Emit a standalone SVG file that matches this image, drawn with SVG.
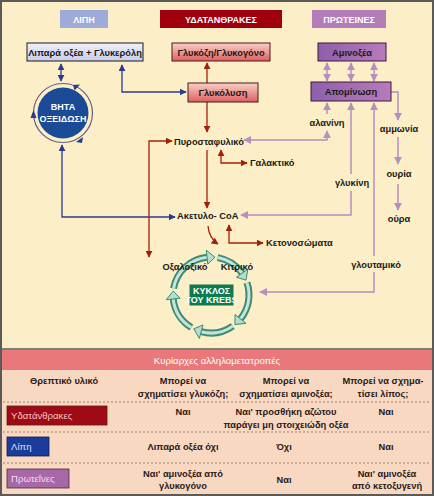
<svg xmlns="http://www.w3.org/2000/svg" width="434" height="496" viewBox="0 0 434 496">
<defs>
<style>
.t{font-family:"Liberation Sans","Noto Sans",sans-serif;font-weight:bold;font-size:9.3px;fill:#1a1a1a}
.h{font-family:"Liberation Sans","Noto Sans",sans-serif;font-weight:bold;font-size:9px;fill:#fff}
.tb{font-family:"Liberation Sans","Noto Sans",sans-serif;font-weight:bold;font-size:9.3px;fill:#2a1a1a}
.rb{font-family:"Liberation Sans","Noto Sans",sans-serif;font-size:9.6px}
.bl{fill:none;stroke:#2B3A8C;stroke-width:1.3}
.rd{fill:none;stroke:#A3200F;stroke-width:1.3}
.pu{fill:none;stroke:#B58FBE;stroke-width:1.5}
.dash{stroke:#8A6A5A;stroke-width:0.8;stroke-dasharray:2,2}
.kr{fill:none;stroke:#3F8A73;stroke-width:7}
.kr2{fill:none;stroke:#C4E6DA;stroke-width:3}
.kh{fill:#B4DDCF;stroke:#3F8A73;stroke-width:1}
</style>
<marker id="mb" viewBox="0 0 10 10" refX="9" refY="5" markerWidth="7" markerHeight="7" markerUnits="userSpaceOnUse" orient="auto-start-reverse"><path d="M0,0 L10,5 L0,10 z" fill="#2B3A8C"/></marker>
<marker id="mr" viewBox="0 0 10 10" refX="9" refY="5" markerWidth="7" markerHeight="7" markerUnits="userSpaceOnUse" orient="auto-start-reverse"><path d="M0,0 L10,5 L0,10 z" fill="#A3200F"/></marker>
<marker id="mp" viewBox="0 0 10 10" refX="9" refY="5" markerWidth="8" markerHeight="8" markerUnits="userSpaceOnUse" orient="auto-start-reverse"><path d="M0,0 L10,5 L0,10 z" fill="#B58FBE"/></marker>
<linearGradient id="gRed" x1="0" y1="0" x2="0" y2="1"><stop offset="0" stop-color="#FAD0C8"/><stop offset="1" stop-color="#DE5F5F"/></linearGradient>
<linearGradient id="gBlue" x1="0" y1="0" x2="0" y2="1"><stop offset="0" stop-color="#EEF0FA"/><stop offset="1" stop-color="#C9CDE8"/></linearGradient>
<linearGradient id="gPur" x1="0" y1="0" x2="1" y2="0"><stop offset="0" stop-color="#8E5FAA"/><stop offset="1" stop-color="#B87BBC"/></linearGradient>
</defs>

<rect x="0" y="0" width="434" height="496" fill="#FCEFC7"/>
<rect x="0" y="349" width="434" height="147" fill="#F9D8C2"/>
<rect x="0" y="350" width="434" height="20" fill="#E8787A"/>
<line x1="0" y1="349" x2="434" y2="349" stroke="#5A5A5A" stroke-width="1.5"/>
<rect x="1" y="1" width="432" height="494" fill="none" stroke="#5A5A5A" stroke-width="2"/>

<!-- headers -->
<g id="hdr-lipi"><rect x="60" y="10" width="48" height="18" fill="#9EAAD7"/><text class="h" x="84" y="22.5" text-anchor="middle">ΛΙΠΗ</text></g>
<g id="hdr-ydat"><rect x="160" y="10" width="122" height="18" fill="#A0000E"/><text class="h" x="221" y="22.5" text-anchor="middle">ΥΔΑΤΑΝΘΡΑΚΕΣ</text></g>
<g id="hdr-prot"><rect x="312" y="10" width="74" height="18" fill="#B47CB8"/><text class="h" x="349" y="22.5" text-anchor="middle">ΠΡΩΤΕΙΝΕΣ</text></g>

<!-- connectors -->
<g id="connectors">
<path class="bl" d="M61,64 L61,81" marker-start="url(#mb)" marker-end="url(#mb)"/>
<path class="bl" d="M122,65 L122,92 L186,92" marker-start="url(#mb)" marker-end="url(#mb)"/>
<path class="bl" d="M62,145 L62,217 L175,217" marker-start="url(#mb)" marker-end="url(#mb)"/>

<path class="rd" d="M207,63 L207,83" marker-start="url(#mr)"/>
<path class="rd" d="M207,102 L207,132" marker-end="url(#mr)"/>
<path class="rd" d="M207,150 L207,208" marker-end="url(#mr)"/>
<path class="rd" d="M172,141 L149,141 L149,257" marker-start="url(#mr)" marker-end="url(#mr)"/>
<path class="rd" d="M221,150 L221,163 L247,163" marker-start="url(#mr)" marker-end="url(#mr)"/>
<path class="rd" d="M229,225 L229,243 L263,243" marker-start="url(#mr)" marker-end="url(#mr)"/>
<path class="rd" d="M208,226 Q209,238 218,244" marker-end="url(#mr)"/>

<path class="pu" d="M327,63 L327,81" marker-start="url(#mp)" marker-end="url(#mp)"/>
<path class="pu" d="M351,63 L351,81" marker-start="url(#mp)" marker-end="url(#mp)"/>
<path class="pu" d="M374,63 L374,81" marker-start="url(#mp)" marker-end="url(#mp)"/>
<path class="pu" d="M327,114 L327,103" marker-end="url(#mp)"/>
<path class="pu" d="M244,140 L327,140 L327,131" marker-start="url(#mp)" marker-end="url(#mp)"/>
<path class="pu" d="M351,103 L351,174 M351,191 L351,215 L241,215" marker-start="url(#mp)" marker-end="url(#mp)"/>
<path class="pu" d="M374,103 L374,256 M374,272 L374,292 L260,292" marker-start="url(#mp)" marker-end="url(#mp)"/>
<path class="pu" d="M391,92 L398,92 L398,120" marker-end="url(#mp)"/>
<path class="pu" d="M398,137 L398,164" marker-end="url(#mp)"/>
<path class="pu" d="M398,184 L398,210" marker-end="url(#mp)"/>
</g>

<!-- nodes -->
<g id="n-lipara"><rect x="27" y="43" width="116" height="18" fill="url(#gBlue)" stroke="#1a1a1a" stroke-width="1"/><text class="t" x="85" y="55.5" text-anchor="middle">Λιπαρά οξέα + Γλυκερόλη</text></g>
<g id="n-glykozi"><rect x="172" y="43" width="98" height="18" fill="url(#gRed)" stroke="#4A1A1A" stroke-width="1"/><text class="t" x="221" y="55.5" text-anchor="middle">Γλυκόζη/Γλυκογόνο</text></g>
<g id="n-aminoxea"><rect x="318" y="43" width="68" height="18" fill="url(#gPur)" stroke="#3A1A3A" stroke-width="1"/><text class="t" x="352" y="55.5" text-anchor="middle">Αμινοξέα</text></g>
<g id="n-glykolysi"><rect x="188" y="83" width="70" height="19" fill="url(#gRed)" stroke="#4A1A1A" stroke-width="1"/><text class="t" x="223" y="96" text-anchor="middle">Γλυκόλυση</text></g>
<g id="n-apominosi"><rect x="311" y="82" width="80" height="19" fill="url(#gPur)" stroke="#3A1A3A" stroke-width="1"/><text class="t" x="351" y="95" text-anchor="middle">Απομίνωση</text></g>

<g id="n-beta">
<circle cx="63" cy="113" r="29.5" fill="none" stroke="#6A5A80" stroke-width="1.2"/>
<circle cx="63" cy="113" r="25.5" fill="#1B4A96"/>
<path d="M80,84.5 L74.5,90.5 L73,85 z" fill="#2B3A8C"/>
<path d="M33.5,110 L30.5,118 L36.5,118 z" fill="#2B3A8C"/>
<path d="M76,142 L83,137 L82,143 z" fill="#2B3A8C"/>
<text class="h" x="63" y="110" text-anchor="middle" font-size="8.5">ΒΗΤΑ</text>
<text class="h" x="63" y="122" text-anchor="middle" font-size="8.5">ΟΞΕΙΔΩΣΗ</text>
</g>

<g id="n-pyro"><text class="t" x="174" y="144.5">Πυροσταφυλικό</text></g>
<g id="n-galakt"><text class="t" x="250" y="166">Γαλακτικό</text></g>
<g id="n-acetyl"><text class="t" x="177" y="218.5">Ακετυλο- CoA</text></g>
<g id="n-keton"><text class="t" x="266" y="246">Κετονοσώματα</text></g>
<g id="n-alanini"><text class="t" x="327" y="125.5" text-anchor="middle">αλανίνη</text></g>
<g id="n-glykini"><text class="t" x="352" y="186" text-anchor="middle">γλυκίνη</text></g>
<g id="n-glout"><text class="t" x="376" y="268" text-anchor="middle">γλουταμικό</text></g>
<g id="n-ammonia"><text class="t" x="399" y="131.5" text-anchor="middle">αμμωνία</text></g>
<g id="n-ouria"><text class="t" x="399" y="177" text-anchor="middle">ουρία</text></g>
<g id="n-oura"><text class="t" x="399" y="222" text-anchor="middle">ούρα</text></g>

<g id="n-krebs">
<path class="kr" d="M173.58,288.40 A38,38 0 0 1 207.03,257.21"/>
<path class="kr" d="M217.60,257.58 A38,38 0 0 1 242.13,273.20"/>
<path class="kr" d="M246.93,282.63 A38,38 0 0 1 240.53,318.91"/>
<path class="kr" d="M232.80,326.13 A38,38 0 0 1 201.17,331.70"/>
<path class="kr" d="M191.43,327.57 A38,38 0 0 1 173.21,298.97"/>
<path class="kr2" d="M173.58,288.40 A38,38 0 0 1 207.03,257.21"/>
<path class="kr2" d="M217.60,257.58 A38,38 0 0 1 242.13,273.20"/>
<path class="kr2" d="M246.93,282.63 A38,38 0 0 1 240.53,318.91"/>
<path class="kr2" d="M232.80,326.13 A38,38 0 0 1 201.17,331.70"/>
<path class="kr2" d="M191.43,327.57 A38,38 0 0 1 173.21,298.97"/>
<path class="kh" d="M207.76,264.17 L206.30,250.25 L214.97,257.21 z"/>
<path class="kh" d="M236.40,277.22 L247.86,269.19 L245.98,280.15 z"/>
<path class="kh" d="M235.09,314.51 L245.97,323.32 L234.91,324.53 z"/>
<path class="kh" d="M202.98,324.94 L199.35,338.47 L193.75,328.86 z"/>
<path class="kh" d="M180.17,298.24 L166.25,299.70 L173.21,291.03 z"/>
<rect x="189.5" y="284.5" width="44" height="21" fill="#0E7A50"/>
<text class="h" x="211.5" y="293.5" text-anchor="middle" font-size="6.8">ΚΥΚΛΟΣ</text>
<text class="h" x="211.5" y="302.5" text-anchor="middle" font-size="6.8">ΤΟΥ KREBS</text>
</g>
<g id="n-oxalo"><text class="t" x="185" y="270" text-anchor="middle">Οξαλοξικό</text></g>
<g id="n-kitriko"><text class="t" x="237" y="270" text-anchor="middle">Κιτρικό</text></g>

<!-- table -->
<g id="table">
<text class="rb" x="217" y="364" text-anchor="middle" fill="#FFFFFF" font-size="10.2">Κυρίαρχες αλληλομετατροπές</text>
<text class="tb" x="30" y="384">Θρεπτικό υλικό</text>
<text class="tb" x="183" y="384" text-anchor="middle">Μπορεί να</text>
<text class="tb" x="183" y="397" text-anchor="middle">σχηματίσει γλυκόζη;</text>
<text class="tb" x="286" y="384" text-anchor="middle">Μπορεί να</text>
<text class="tb" x="286" y="397" text-anchor="middle">σχηματίσει αμινοξέα;</text>
<text class="tb" x="383" y="384" text-anchor="middle">Μπορεί να σχημα-</text>
<text class="tb" x="383" y="397" text-anchor="middle">τίσει λίπος;</text>
<line class="dash" x1="3" y1="402" x2="431" y2="402"/>

<rect x="7" y="406" width="100" height="19" fill="#A00A14" stroke="#5A1A1A" stroke-width="0.8"/>
<text class="rb" x="11" y="419" fill="#F3C8C8">Υδατάνθρακες</text>
<text class="tb" x="183" y="415" text-anchor="middle">Ναι</text>
<text class="tb" x="286" y="415" text-anchor="middle">Ναι' προσθήκη αζώτου</text>
<text class="tb" x="286" y="428" text-anchor="middle">παράγει μη στοιχειώδη οξέα</text>
<text class="tb" x="386" y="415" text-anchor="middle">Ναι</text>
<line class="dash" x1="3" y1="432" x2="431" y2="432"/>

<rect x="7" y="437" width="42" height="19" fill="#1A3C9A" stroke="#1A1A4A" stroke-width="0.8"/>
<text class="rb" x="11" y="450" fill="#D8E0F8">Λίπη</text>
<text class="tb" x="183" y="450" text-anchor="middle">Λιπαρά οξέα όχι</text>
<text class="tb" x="284" y="450" text-anchor="middle">Όχι</text>
<text class="tb" x="386" y="450" text-anchor="middle">Ναι</text>
<line class="dash" x1="3" y1="463" x2="431" y2="463"/>

<rect x="7" y="469" width="62" height="19" fill="#A868A8" stroke="#4A2A4A" stroke-width="0.8"/>
<text class="rb" x="11" y="482" fill="#F4DDF4">Πρωτεΐνες</text>
<text class="tb" x="183" y="477" text-anchor="middle">Ναι' αμινοξέα από</text>
<text class="tb" x="183" y="489" text-anchor="middle">γλυκογόνο</text>
<text class="tb" x="284" y="483" text-anchor="middle">Ναι</text>
<text class="tb" x="387" y="477" text-anchor="middle">Ναι' αμινοξέα</text>
<text class="tb" x="387" y="489" text-anchor="middle">από κετοξυγενή</text>
</g>
</svg>
